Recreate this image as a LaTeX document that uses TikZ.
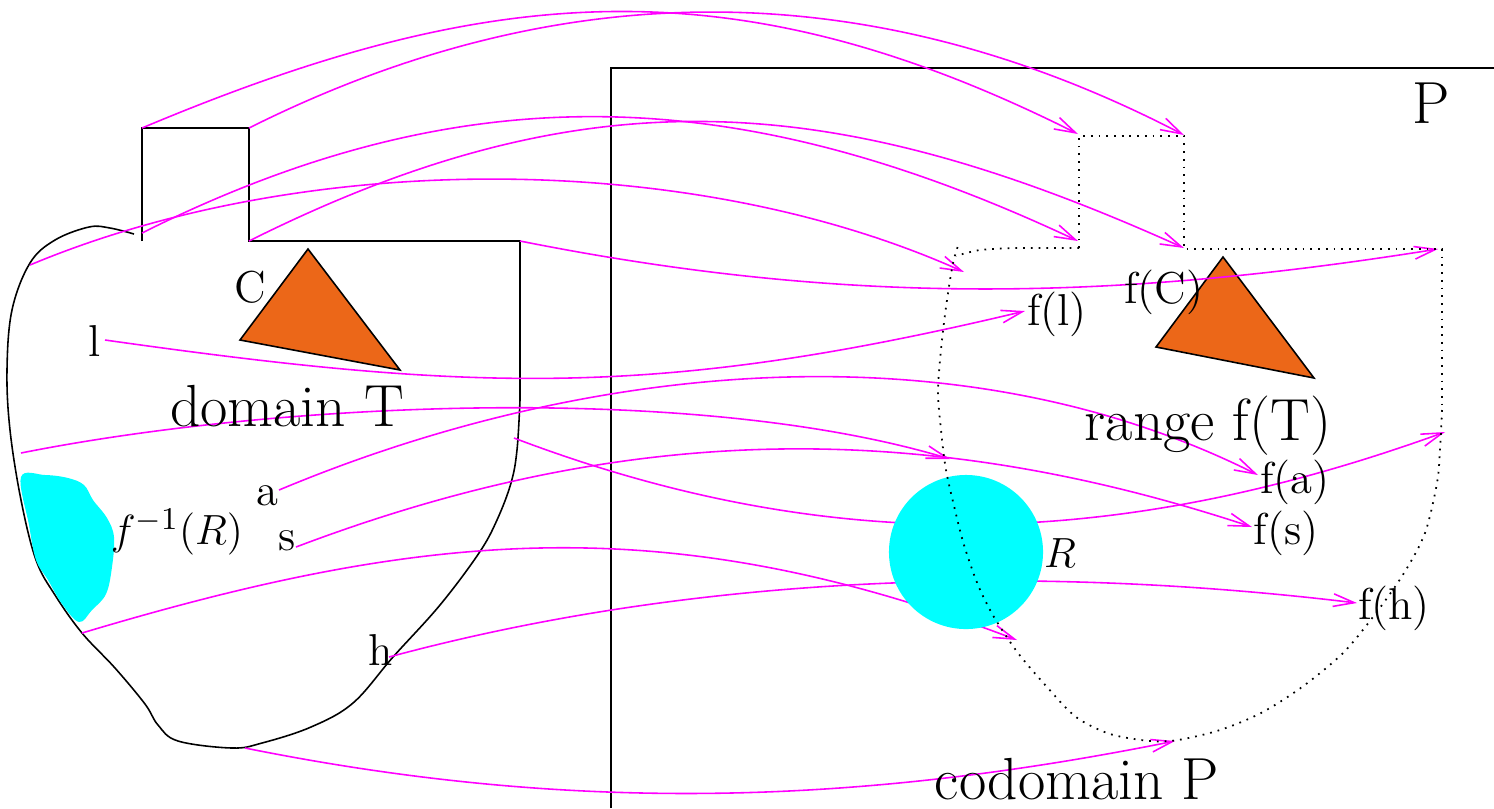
\documentclass[tikz,border=0pt]{standalone}
\usepackage{amsmath,amssymb}
\usepackage{tikz}
\usetikzlibrary{arrows.meta}
\definecolor{mapcol}{RGB}{255,0,255}
\definecolor{regcol}{RGB}{0,255,255}
\definecolor{tricol}{RGB}{236,103,24}

\begin{document}
\begin{tikzpicture}[x=0.01cm, y=-0.01cm, line width=0.45pt,
	every node/.style={inner sep=0pt},
	lbl/.style={font=\fontsize{12.7}{15}\selectfont},
	big/.style={font=\fontsize{16.9}{20}\selectfont},
	map/.style={mapcol, line width=0.45pt, -{Straight Barb[length=6pt,width=3.6pt]}},
	imgline/.style={line width=0.5pt, dash pattern=on 0.5pt off 1.7pt}]
	\useasboundingbox (0,0) rectangle (1494,808);
	% codomain P
	\draw[line width=0.6pt] (611,808) -- (611,68) -- (1494,68);
	% domain T
	\draw (142,241) -- (142,128) -- (249,128) -- (249,241) -- (520,241) -- (520,400);
	\draw plot[smooth, tension=0.6] coordinates {(520,400) (517,450) (511,483) (497,520) (479,553) (440,605)
		(393,657) (353,703) (311,727) (262,743) (232,748) (178,741) (158,725) (145,704) (115,668)
		(82,633) (55,595) (36,560) (21,500) (10,430) (7,370) (12,310) (30,263) (55,240) (89,227) (110,228) (134,234)};
	\filldraw[fill=tricol] (308,249) -- (240,340) -- (400,370) -- cycle;
	\filldraw[fill=tricol] (1223,257) -- (1156,347) -- (1314,378) -- cycle;
	\fill[regcol] plot[smooth cycle, tension=0.6] coordinates {(21,477) (45,475) (68,478) (84,485) (93,500)
		(107,518) (114,537) (112,567) (106,594) (92,610) (79,622) (62,604) (48,580) (36,560) (29,525)};
	% end points of the maps
	\coordinate (tA) at (142,128); \coordinate (pA) at (1078,134);
	\coordinate (tB) at (249,128); \coordinate (pB) at (1184,135);
	\coordinate (tD) at (30,265);  \coordinate (pD) at (964,272);
	\coordinate (tE) at (142,233); \coordinate (pE) at (1078,241);
	\coordinate (tF) at (249,241); \coordinate (pF) at (1184,248);
	\coordinate (tG) at (520,241); \coordinate (pG) at (1438,249);
	\coordinate (tl) at (105,340); \coordinate (pl) at (1025,311);
	\coordinate (tx) at (21,453);  \coordinate (px) at (950,459);
	\coordinate (ta) at (279,490); \coordinate (pa) at (1258,475);
	\coordinate (ts) at (296,547); \coordinate (ps) at (1252,527);
	\coordinate (ty) at (514,438); \coordinate (py) at (1445,432);
	\coordinate (tz) at (82,633);  \coordinate (pz) at (1017,640);
	\coordinate (th) at (389,657); \coordinate (ph) at (1357,603);
	\coordinate (tb) at (245,748); \coordinate (pb) at (1175,741);
	% the maps
	\draw[map] (tA) .. controls (487,-17) and (733,-39) .. (pA);
	\draw[map] (tB) .. controls (561,-28) and (872,-27) .. (pB);
	\draw[map] (tD) .. controls (304,150) and (690,149) .. (pD);
	\draw[map] (tE) .. controls (472,68) and (748,86) .. (pE);
	\draw[map] (tF) .. controls (593,69) and (840,93) .. (pF);
	\draw[map] (tG) .. controls (846,306) and (1112,301) .. (pG);
	\draw[map] (tl) .. controls (473,392) and (657,399) .. (pl);
	\draw[map] (tx) .. controls (277,402) and (694,382) .. (px);
	\draw[map] (ta) .. controls (582,363) and (955,323) .. (pa);
	\draw[map] (ts) .. controls (626,422) and (922,418) .. (ps);
	\draw[map] (ty) .. controls (835,560) and (1124,548) .. (py);
	\draw[map] (tz) .. controls (429,529) and (670,508) .. (pz);
	\draw[map] (th) .. controls (704,572) and (1042,565) .. (ph);
	\draw[map] (tb) .. controls (568,813) and (852,806) .. (pb);
	% R and the range
	\fill[regcol] (966,552) circle (0.77cm);
	\draw[imgline] (1079,248) -- (1079,136) -- (1184,136) -- (1184,249) -- (1442,249) -- (1442,410);
	\draw[imgline] plot[smooth] coordinates {(1442,410) (1440,450) (1437,483) (1425,533) (1404,573) (1376,613)
		(1343,653) (1302,687) (1261,713) (1220,730) (1178,740) (1150,741) (1110,734) (1076,717) (1047,687)
		(1018,653) (994,617) (978,585) (964,545) (955,510) (946,470) (941,430) (938,390) (942,340) (947,300)
		(953,263) (959,243)};
	\draw[imgline] plot[smooth] coordinates {(1079,248) (1020,248) (980,250) (956,256)};
	% labels
	\node[lbl] (l) at (95,341) {l};
	\node[lbl] (a) at (267,496) {a};
	\node[lbl] (s) at (287,541) {s};
	\node[lbl] (h) at (381,650) {h};
	\node[lbl] (C) at (250,287) {C};
	\node[lbl, font=\fontsize{13.2}{16}\selectfont] (finvR) at (177,532) {$f^{-1}(R)$};
	\node[big] (domT) at (287,406) {domain T};
	\node[big] (rngT) at (1208,426) {range f(T)};
	\node[big] (codP) at (1077,779) {codomain P};
	\node[big] (P) at (1431,103) {P};
	\node[lbl] (fC) at (1164,292) {f(C)};
	\node[lbl] (fl) at (1057,314) {f(l)};
	\node[lbl] (fa) at (1295,482) {f(a)};
	\node[lbl] (fs) at (1286,533) {f(s)};
	\node[lbl] (fh) at (1394,608) {f(h)};
	\node[lbl] (R) at (1060,553) {$R$};
\end{tikzpicture}
\end{document}
